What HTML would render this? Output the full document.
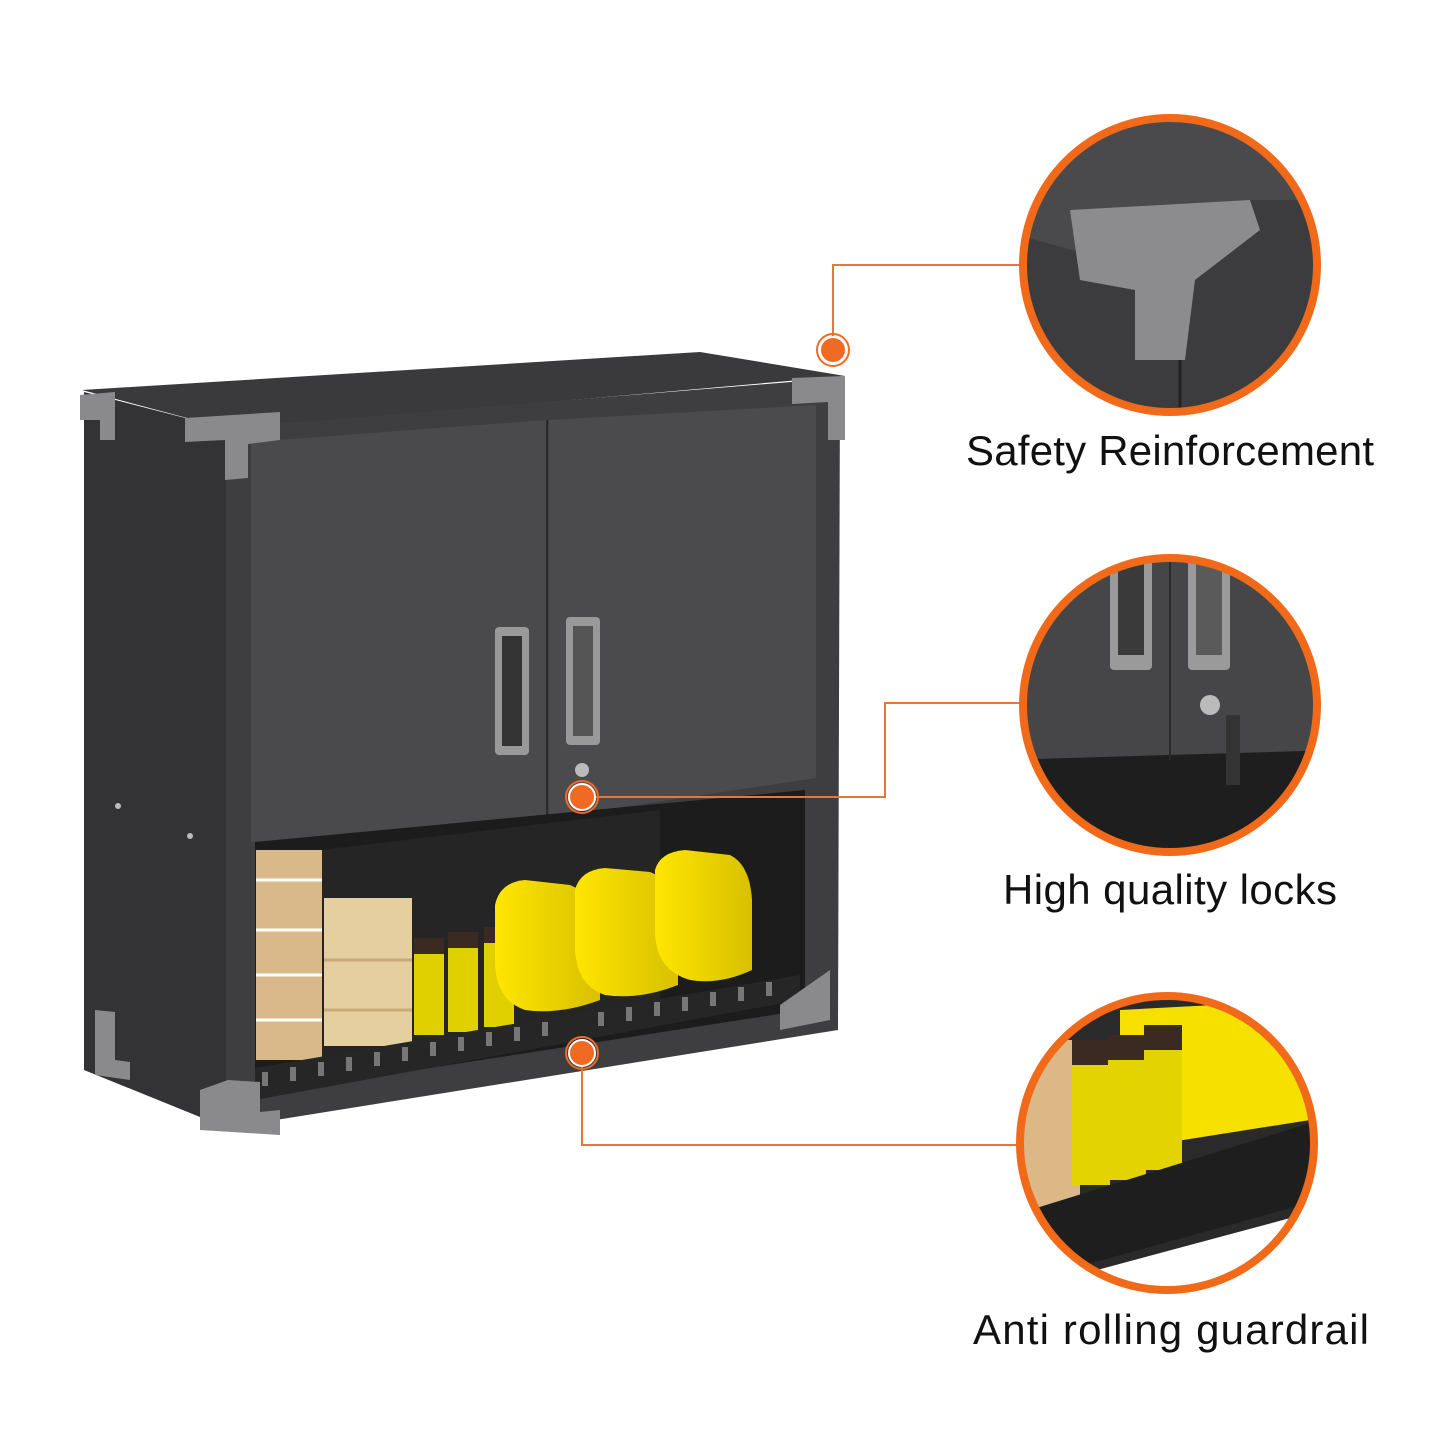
<!DOCTYPE html>
<html><head><meta charset="utf-8"><style>
html,body{margin:0;padding:0;background:#fff}
svg{display:block}
text{font-family:"Liberation Sans","DejaVu Sans",sans-serif;fill:#111}
</style></head><body>
<svg width="1445" height="1445" viewBox="0 0 1445 1445" xmlns="http://www.w3.org/2000/svg">
<defs>
<clipPath id="c1"><circle cx="1170" cy="265" r="147"/></clipPath>
<clipPath id="c2"><circle cx="1170" cy="705" r="147"/></clipPath>
<clipPath id="c3"><circle cx="1167" cy="1143" r="147"/></clipPath>
<linearGradient id="yl" x1="0" x2="1"><stop offset="0" stop-color="#ffe600"/><stop offset="1" stop-color="#d8c000"/></linearGradient>
</defs>
<polygon points="82,390 700,352 845,376 232,430" fill="#3a3a3c"/>
<polygon points="84,392 232,430 232,1130 84,1070" fill="#333335"/>
<polygon points="226,428 840,378 838,1030 226,1128" fill="#3e3e40"/>
<polygon points="251,442 546,420 546,818 251,842" fill="#4a4a4c"/>
<polygon points="549,420 816,405 816,778 549,818" fill="#4b4b4d"/>
<line x1="547" y1="420" x2="547" y2="818" stroke="#2a2a2a" stroke-width="2"/>
<rect x="495" y="627" width="34" height="128" rx="4" fill="#999"/><rect x="502" y="636" width="20" height="110" fill="#333"/>
<rect x="566" y="617" width="34" height="128" rx="4" fill="#999"/><rect x="573" y="626" width="20" height="110" fill="#555"/>
<circle cx="582" cy="770" r="7" fill="#bbb"/>
<polygon points="255,842 805,790 805,1010 255,1095" fill="#1c1c1c"/>
<polygon points="320,850 660,810 660,1000 320,1060" fill="#252525"/>
<rect x="256" y="850" width="66" height="210" fill="#d9b98a"/>
<g stroke="#fff" stroke-width="3"><line x1="256" y1="880" x2="322" y2="880"/><line x1="256" y1="930" x2="322" y2="930"/><line x1="256" y1="975" x2="322" y2="975"/><line x1="256" y1="1020" x2="322" y2="1020"/></g>
<rect x="324" y="898" width="88" height="148" fill="#e6cf9e"/>
<line x1="324" y1="960" x2="412" y2="960" stroke="#c8aa78" stroke-width="3"/><line x1="324" y1="1010" x2="412" y2="1010" stroke="#c8aa78" stroke-width="3"/>
<rect x="414" y="945" width="30" height="90" fill="#e0d000"/><rect x="414" y="938" width="30" height="16" fill="#3a2a22"/>
<rect x="448" y="940" width="30" height="92" fill="#e0d000"/><rect x="448" y="932" width="30" height="16" fill="#3a2a22"/>
<rect x="484" y="935" width="30" height="92" fill="#e0d000"/><rect x="484" y="927" width="30" height="16" fill="#3a2a22"/>
<path d="M495,905 Q500,882 525,880 L570,885 Q595,895 600,930 L600,1000 Q560,1015 525,1010 Q495,1000 495,960Z" fill="url(#yl)"/>
<path d="M575,890 Q580,870 605,868 L650,872 Q672,880 678,915 L678,985 Q640,1000 605,995 Q575,985 575,945Z" fill="url(#yl)"/>
<path d="M655,870 Q660,852 685,850 L730,855 Q750,865 752,900 L752,970 Q720,985 690,980 Q655,970 655,930Z" fill="url(#yl)"/>
<polygon points="255,1068 800,975 800,1000 255,1100" fill="#262626"/>
<g fill="#777">
<rect x="262" y="1072" width="6" height="14"/><rect x="290" y="1067" width="6" height="14"/><rect x="318" y="1062" width="6" height="14"/><rect x="346" y="1057" width="6" height="14"/><rect x="374" y="1052" width="6" height="14"/><rect x="402" y="1047" width="6" height="14"/><rect x="430" y="1042" width="6" height="14"/><rect x="458" y="1037" width="6" height="14"/><rect x="486" y="1032" width="6" height="14"/><rect x="514" y="1027" width="6" height="14"/><rect x="542" y="1022" width="6" height="14"/><rect x="598" y="1012" width="6" height="14"/><rect x="626" y="1007" width="6" height="14"/><rect x="654" y="1002" width="6" height="14"/><rect x="682" y="997" width="6" height="14"/><rect x="710" y="992" width="6" height="14"/><rect x="738" y="987" width="6" height="14"/><rect x="766" y="982" width="6" height="14"/></g>
<g fill="#8a8a8c">
<polygon points="80,395 115,392 115,440 100,440 100,420 80,420"/>
<polygon points="185,418 280,412 280,440 248,444 248,478 225,480 225,440 185,442"/>
<polygon points="792,378 845,376 845,440 828,440 828,402 792,404"/>
<polygon points="95,1010 115,1012 115,1060 130,1062 130,1080 95,1075"/>
<polygon points="200,1090 228,1080 260,1082 260,1112 280,1110 280,1135 200,1130"/>
<polygon points="780,1005 830,970 830,1020 780,1030"/>
</g>
<circle cx="118" cy="806" r="3" fill="#bbb"/><circle cx="190" cy="836" r="3" fill="#bbb"/>
<g stroke="#e8763a" stroke-width="2" fill="none">
<polyline points="833,350 833,265 1022,265"/>
<polyline points="582,797 885,797 885,703 1022,703"/>
<polyline points="582,1053 582,1145 1020,1145"/>
</g>
<g fill="#f06a24" stroke="#fff" stroke-width="2">
<circle cx="833" cy="350" r="13"/><circle cx="582" cy="797" r="13"/><circle cx="582" cy="1053" r="13"/>
</g>
<g fill="none" stroke="#f06a24" stroke-width="2"><circle cx="833" cy="350" r="16"/><circle cx="582" cy="797" r="16"/><circle cx="582" cy="1053" r="16"/></g>
<g clip-path="url(#c1)">
<rect x="1000" y="100" width="340" height="340" fill="#3c3c3e"/>
<polygon points="1000,100 1340,100 1340,200 1250,200 1180,280 1000,230" fill="#4a4a4c"/>
<polygon points="1070,210 1250,200 1260,230 1195,280 1185,360 1135,360 1135,290 1080,280" fill="#8c8c8e"/>
<line x1="1180" y1="360" x2="1180" y2="420" stroke="#222" stroke-width="3"/>
</g>
<circle cx="1170" cy="265" r="147" fill="none" stroke="#f06a1a" stroke-width="8"/>
<g clip-path="url(#c2)">
<rect x="1000" y="540" width="340" height="340" fill="#464648"/>
<polygon points="1000,760 1340,750 1340,880 1000,880" fill="#1e1e1e"/>
<rect x="1110" y="555" width="42" height="115" rx="4" fill="#9a9a9a"/><rect x="1118" y="555" width="26" height="100" fill="#3a3a3a"/>
<rect x="1188" y="555" width="42" height="115" rx="4" fill="#9a9a9a"/><rect x="1196" y="555" width="26" height="100" fill="#5a5a5a"/>
<line x1="1170" y1="540" x2="1170" y2="760" stroke="#2a2a2a" stroke-width="2"/>
<circle cx="1210" cy="705" r="10" fill="#bbb"/>
<rect x="1226" y="715" width="14" height="70" fill="#333"/>
</g>
<circle cx="1170" cy="705" r="147" fill="none" stroke="#f06a1a" stroke-width="8"/>
<g clip-path="url(#c3)">
<rect x="1000" y="980" width="340" height="340" fill="#2a2a2a"/>
<rect x="1000" y="1040" width="80" height="180" fill="#dcb887"/>
<path d="M1120,1010 L1310,1000 L1310,1120 L1120,1150Z" fill="#f5e000"/>
<rect x="1072" y="1045" width="38" height="140" fill="#e3d300"/><rect x="1072" y="1040" width="38" height="25" fill="#3a2a22"/>
<rect x="1108" y="1040" width="38" height="140" fill="#e3d300"/><rect x="1108" y="1035" width="38" height="25" fill="#3a2a22"/>
<rect x="1144" y="1030" width="38" height="140" fill="#e3d300"/><rect x="1144" y="1025" width="38" height="25" fill="#3a2a22"/>
<polygon points="1030,1210 1320,1120 1320,1200 1030,1280" fill="#1e1e1e"/>
<polygon points="1060,1280 1320,1210 1320,1320 1060,1320" fill="#fff"/>
</g>
<circle cx="1167" cy="1143" r="147" fill="none" stroke="#f06a1a" stroke-width="8"/>
<text x="1170" y="465" font-size="42" text-anchor="middle" textLength="408">Safety Reinforcement</text>
<text x="1170" y="904" font-size="42" text-anchor="middle" textLength="334">High quality locks</text>
<text x="1171" y="1344" font-size="42" text-anchor="middle" textLength="396">Anti rolling guardrail</text>
</svg>
</body></html>
